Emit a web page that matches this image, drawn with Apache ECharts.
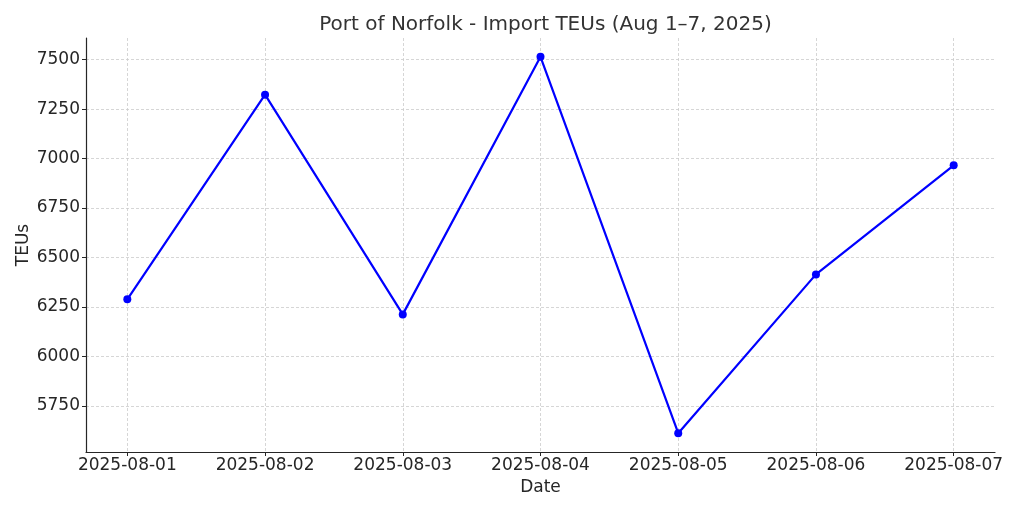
<!DOCTYPE html>
<html>
<head>
<meta charset="utf-8">
<script src="https://cdn.jsdelivr.net/npm/echarts@6/dist/echarts.min.js"></script>
<style>
html,body{margin:0;padding:0;background:#fff;}
#chart{width:1024px;height:512px;}
</style>
</head>
<body>
<div id="chart"></div>
<script>
const dates = ['2025-08-01','2025-08-02','2025-08-03','2025-08-04','2025-08-05','2025-08-06','2025-08-07'];
const teus = [6289, 7323, 6213, 7514, 5613, 6415, 6966];
const yTicks = [5750, 6000, 6250, 6500, 6750, 7000, 7250, 7500];
const titleText = 'Port of Norfolk - Import TEUs (Aug 1\u20137, 2025)';

const idx = dates.map((d, i) => i);
const lo = Math.min(...teus), hi = Math.max(...teus);
const pad = (hi - lo) * 0.05;
const xpad = (dates.length - 1) * 0.05;

const font = 'DejaVu Sans';
const chart = echarts.init(document.getElementById('chart'), null, {renderer: 'canvas'});
chart.setOption({
  backgroundColor: '#ffffff',
  animation: false,
  title: {
    text: titleText,
    left: 540.5,
    textAlign: 'center',
    top: 10,
    textStyle: {fontFamily: font, fontSize: 20, fontWeight: 'normal', color: '#333333'}
  },
  grid: {left: 86, right: 29, top: 38, bottom: 60, containLabel: false},
  xAxis: {
    type: 'value',
    min: -xpad,
    max: dates.length - 1 + xpad,
    name: 'Date',
    nameLocation: 'middle',
    nameGap: 27,
    nameMoveOverlap: false,
    nameTextStyle: {fontFamily: font, fontSize: 17, color: '#262626'},
    axisLine: {show: true, onZero: false, lineStyle: {color: '#262626', width: 1.2}},
    axisTick: {show: true, inside: false, length: 4, customValues: idx, lineStyle: {color: '#262626', width: 1}},
    axisLabel: {
      customValues: idx,
      margin: 5,
      fontFamily: font, fontSize: 17, color: '#262626',
      formatter: v => dates[Math.round(v)] || ''
    },
    splitLine: {show: true, customValues: idx, lineStyle: {color: '#cccccc', type: [3, 2], width: 0.8}}
  },
  yAxis: {
    type: 'value',
    min: lo - pad,
    max: hi + pad,
    name: 'TEUs',
    nameLocation: 'middle',
    nameGap: 54,
    nameRotate: 90,
    nameMoveOverlap: false,
    nameTextStyle: {fontFamily: font, fontSize: 17, color: '#262626'},
    axisLine: {show: true, onZero: false, lineStyle: {color: '#262626', width: 1.2}},
    axisTick: {show: true, inside: false, length: 4, customValues: yTicks, lineStyle: {color: '#262626', width: 1}},
    axisLabel: {customValues: yTicks, margin: 6, fontFamily: font, fontSize: 17, color: '#262626', formatter: v => String(v)},
    splitLine: {show: true, customValues: yTicks, lineStyle: {color: '#cccccc', type: [3, 2], width: 0.8}}
  },
  series: [{
    type: 'line',
    data: idx.map(i => [i, teus[i]]),
    symbol: 'circle',
    symbolSize: 8,
    showSymbol: true,
    lineStyle: {color: '#0000ff', width: 2.2},
    itemStyle: {color: '#0000ff'}
  }]
});
</script>
</body>
</html>
